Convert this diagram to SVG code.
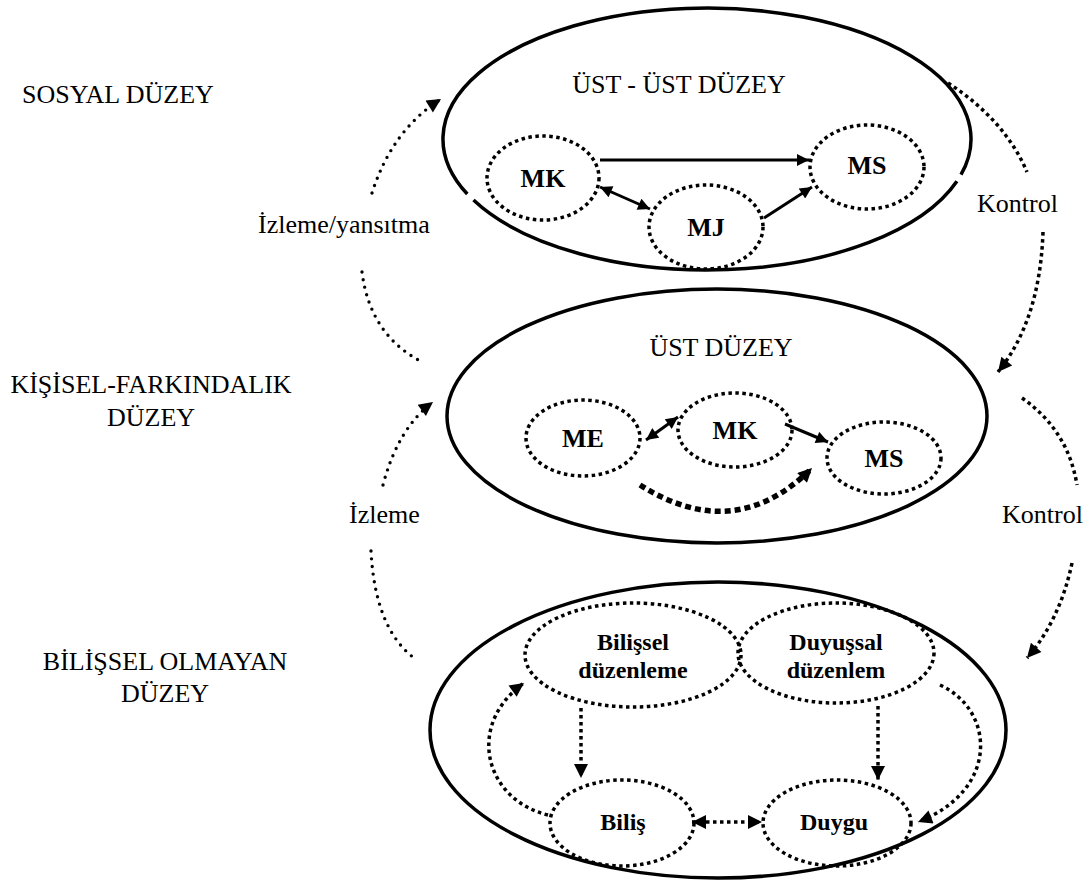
<svg xmlns="http://www.w3.org/2000/svg" width="1091" height="889" viewBox="0 0 1091 889">
  <style>
    text { font-family: 'Liberation Serif', 'Times New Roman', 'DejaVu Serif', serif; fill: #000; }
    .lbl { font-size: 26px; }
    .mid { text-anchor: middle; }
    .node { font-weight: bold; font-size: 26px; text-anchor: middle; }
    .small { font-weight: bold; font-size: 24px; text-anchor: middle; }
    .outer { fill: none; stroke: #000; stroke-width: 3.5; }
    .inner { fill: none; stroke: #000; stroke-width: 3.5; stroke-dasharray: 3.5 3.5; }
    .solid { fill: none; stroke: #000; stroke-width: 3; }
    .sq { fill: none; stroke: #000; stroke-width: 3.5; stroke-dasharray: 3.5 3.5; }
    .rd { fill: none; stroke: #000; stroke-width: 3.4; stroke-dasharray: 0 7.7; stroke-linecap: round; }
    .bold-dash { fill: none; stroke: #000; stroke-width: 5.5; stroke-dasharray: 6 4; }
  </style>
  <defs>
    <marker id="ah" viewBox="0 0 10 10" refX="10" refY="5" markerUnits="userSpaceOnUse" markerWidth="15" markerHeight="12" orient="auto-start-reverse">
      <path d="M0,0 L10,5 L0,10 Z" fill="#000"/>
    </marker>
    <marker id="ahL" viewBox="0 0 10 10" refX="10" refY="5" markerUnits="userSpaceOnUse" markerWidth="17" markerHeight="14" orient="auto-start-reverse">
      <path d="M0,0 L10,5 L0,10 Z" fill="#000"/>
    </marker>
  </defs>

  <!-- level labels -->
  <g id="levels">
    <text class="lbl" x="22" y="103" font-family="Liberation Serif, serif">SOSYAL DÜZEY</text>
    <text class="lbl mid" x="151" y="393" font-family="Liberation Serif, serif">KİŞİSEL-FARKINDALIK</text>
    <text class="lbl mid" x="151" y="426" font-family="Liberation Serif, serif">DÜZEY</text>
    <text class="lbl mid" x="165" y="670" font-family="Liberation Serif, serif">BİLİŞSEL OLMAYAN</text>
    <text class="lbl mid" x="165" y="702" font-family="Liberation Serif, serif">DÜZEY</text>
    <text class="lbl" x="258" y="233" font-family="Liberation Serif, serif">İzleme/yansıtma</text>
    <text class="lbl" x="349" y="523" font-family="Liberation Serif, serif">İzleme</text>
    <text class="lbl" x="977" y="212" font-family="Liberation Serif, serif">Kontrol</text>
    <text class="lbl" x="1002" y="523" font-family="Liberation Serif, serif">Kontrol</text>
  </g>

  <!-- social level: meta-meta -->
  <g id="ust-ust">
    <path class="outer" d="M956.9,181.2 A264,131 0 0 1 473.5,200.1"/>
    <path class="outer" d="M467.3,194.0 A264,131 0 1 1 961.0,174.7"/>
    <text class="lbl mid" x="679" y="93">ÜST - ÜST DÜZEY</text>
  </g>
  <g id="mk1">
    <ellipse class="inner" cx="543" cy="178" rx="56" ry="42"/>
    <text class="node" x="543" y="187">MK</text>
  </g>
  <g id="ms1">
    <ellipse class="inner" cx="867" cy="167" rx="57" ry="42"/>
    <text class="node" x="867" y="174">MS</text>
  </g>
  <g id="mj1">
    <ellipse class="inner" cx="706" cy="227" rx="57" ry="42"/>
    <text class="node" x="706" y="236">MJ</text>
  </g>

  <!-- personal awareness level: meta -->
  <g id="ust">
    <ellipse class="outer" cx="717" cy="416" rx="270" ry="127"/>
    <text class="lbl mid" x="721" y="356">ÜST DÜZEY</text>
  </g>
  <g id="me2">
    <ellipse class="inner" cx="583" cy="438" rx="57" ry="38"/>
    <text class="node" x="583" y="447">ME</text>
  </g>
  <g id="mk2">
    <ellipse class="inner" cx="735" cy="430" rx="57" ry="37"/>
    <text class="node" x="735" y="439">MK</text>
  </g>
  <g id="ms2">
    <ellipse class="inner" cx="884" cy="458" rx="57" ry="36"/>
    <text class="node" x="884" y="467">MS</text>
  </g>

  <!-- non-cognitive level -->
  <g id="bilissel-olmayan">
    <ellipse class="outer" cx="718" cy="730" rx="288" ry="148"/>
  </g>
  <g id="bilissel-duzenleme">
    <ellipse class="inner" cx="633" cy="655" rx="108" ry="52"/>
    <text class="small" x="633" y="650">Bilişsel</text>
    <text class="small" x="633" y="678">düzenleme</text>
  </g>
  <g id="duyussal-duzenlem">
    <ellipse class="inner" cx="836" cy="653" rx="98" ry="50"/>
    <text class="small" x="836" y="650">Duyuşsal</text>
    <text class="small" x="836" y="678">düzenlem</text>
  </g>
  <g id="bilis">
    <ellipse class="inner" cx="622" cy="823" rx="72" ry="43"/>
    <text class="small" x="623" y="830">Biliş</text>
  </g>
  <g id="duygu">
    <ellipse class="inner" cx="837" cy="823" rx="74" ry="43"/>
    <text class="small" x="834" y="830">Duygu</text>
  </g>

  <g id="connectors">
    <!-- top level -->
    <line class="solid" x1="600" y1="160" x2="809" y2="160" marker-end="url(#ah)"/>
    <line class="solid" x1="600" y1="187" x2="650" y2="209" marker-start="url(#ah)" marker-end="url(#ah)"/>
    <line class="solid" x1="764" y1="218" x2="812" y2="187" marker-end="url(#ah)"/>
    <!-- middle level -->
    <line class="solid" x1="646" y1="440" x2="678" y2="417" marker-start="url(#ah)" marker-end="url(#ah)"/>
    <line class="solid" x1="785" y1="424" x2="828" y2="442" marker-end="url(#ah)"/>
    <path class="bold-dash" d="M640,485 Q735,545 812,468" marker-end="url(#ahL)"/>
    <!-- bottom level -->
    <path class="sq" d="M581,708 L581,778" marker-end="url(#ahL)"/>
    <path class="sq" d="M878,706 L878,780" marker-end="url(#ahL)"/>
    <path class="sq" d="M692,822 L762,822" marker-start="url(#ahL)" marker-end="url(#ahL)"/>
    <path class="sq" d="M548,815 C485,800 465,725 524,683" marker-end="url(#ahL)"/>
    <path class="sq" d="M940,685 C995,710 1000,790 918,822" marker-end="url(#ahL)"/>
    <!-- monitoring (left) -->
    <path class="rd" d="M372,193 Q392,130 441,99" marker-end="url(#ahL)"/>
    <path class="rd" d="M362,272 Q370,335 422,362"/>
    <path class="rd" d="M383,485 Q398,428 433,402" marker-end="url(#ahL)"/>
    <path class="rd" d="M371,551 Q375,628 414,658"/>
    <!-- control (right) -->
    <path class="sq" d="M948,83 Q1005,120 1027,172"/>
    <path class="sq" d="M1043,232 Q1040,320 998,372" marker-end="url(#ahL)"/>
    <path class="sq" d="M1022,398 Q1068,430 1077,485"/>
    <path class="sq" d="M1072,563 Q1060,620 1027,658" marker-end="url(#ahL)"/>
  </g>
</svg>
